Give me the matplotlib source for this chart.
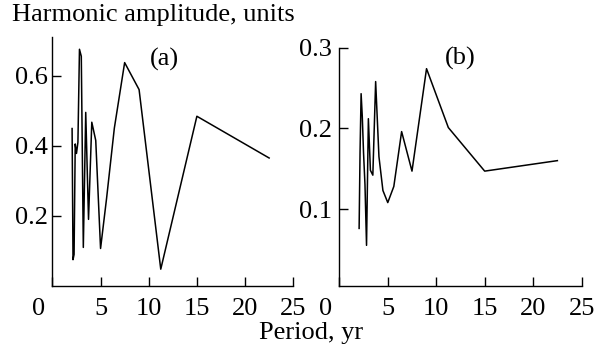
import matplotlib
matplotlib.use("Agg")
import matplotlib.pyplot as plt
import matplotlib.transforms as mtransforms

# harmonic periods, yr (shared by both panels)
periods = [2.045, 2.14, 2.25, 2.37, 2.5, 2.65, 2.81, 3.0, 3.21, 3.46, 3.75,
           4.09, 4.5, 5.0, 5.625, 6.43, 7.5, 9.0, 11.25, 15.0, 22.5]

# panel (a) amplitudes
amp_a = [0.449, 0.075, 0.09, 0.405, 0.378, 0.41, 0.675, 0.655, 0.11, 0.495, 0.19,
         0.467, 0.415, 0.107, 0.25, 0.45, 0.637, 0.56, 0.048, 0.484, 0.365]

# panel (b) amplitudes
amp_b = [0.076, 0.17, 0.243, 0.215, 0.17, 0.13, 0.055, 0.212, 0.148, 0.142, 0.258,
         0.165, 0.123, 0.108, 0.128, 0.196, 0.147, 0.274, 0.201, 0.147, 0.160]

xticks = [0, 5, 10, 15, 20, 25]
yticks_a = [0.2, 0.4, 0.6]
yticks_b = [0.1, 0.2, 0.3]

W, H = 602, 346
plt.rcParams['font.family'] = ['Liberation Serif', 'DejaVu Serif']
plt.rcParams['font.size'] = 19

fig = plt.figure(figsize=(W / 100, H / 100), dpi=100)


def px_box(x0, y0, x1, y1):
    return [x0 / W, 1 - y1 / H, (x1 - x0) / W, (y1 - y0) / H]


ax_a = fig.add_axes(px_box(52.4, 37, 293.2, 286))
ax_b = fig.add_axes(px_box(339.3, 47.7, 581.6, 286))

for ax, amp, yt, ylim, ypad in [(ax_a, amp_a, yticks_a, (0, 0.71), 3),
                                (ax_b, amp_b, yticks_b, (0.0046, 0.3), 5.5)]:
    ax.plot(periods, amp, color='black', lw=1.1)
    ax.set_xlim(0, 25)
    ax.set_ylim(*ylim)
    ax.set_xticks(xticks)
    ax.set_xticklabels([str(t) for t in xticks])
    ax.set_yticks(yt)
    ax.set_yticklabels([f"{t:.1f}" for t in yt])
    for s in ['top', 'right']:
        ax.spines[s].set_visible(False)
    for s in ['left', 'bottom']:
        ax.spines[s].set_linewidth(1.0)
    ax.tick_params(axis='x', direction='in', length=6.5, width=1.0, pad=8.5)
    ax.tick_params(axis='y', direction='in', length=6.5, width=1.0, pad=ypad)
    # the "0" label sits left of the axis corner
    lab0 = ax.get_xticklabels()[0]
    lab0.set_transform(lab0.get_transform() +
                       mtransforms.ScaledTranslation(-14 / 100, 0, fig.dpi_scale_trans))

fig.text(164 / W, 1 - 59 / H, "(a)", ha='center', va='center')
fig.text(460 / W, 1 - 58 / H, "(b)", ha='center', va='center')
fig.text(12 / W, 1 - 21.5 / H, "Harmonic amplitude, units", ha='left', va='baseline')
fig.text(311 / W, 1 - 339 / H, "Period, yr", ha='center', va='baseline')

fig.savefig("out.png", dpi=100)
